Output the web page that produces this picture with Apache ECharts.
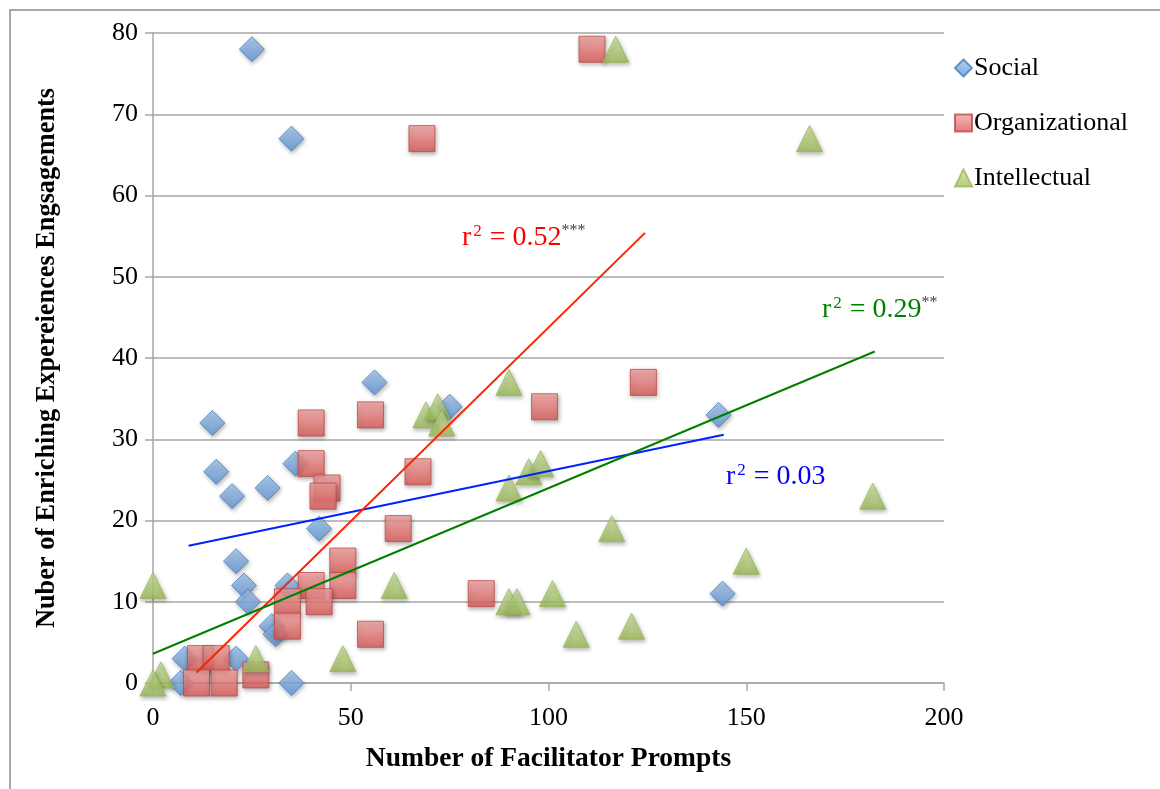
<!DOCTYPE html>
<html><head><meta charset="utf-8">
<script src="https://cdn.jsdelivr.net/npm/echarts@6/dist/echarts.min.js"></script>
<style>html,body{margin:0;padding:0;background:#fff}#c{width:1160px;height:789px}</style>
</head><body><div id="c"></div>
<script>
// Data: [Number of Facilitator Prompts, Number of Enriching Experiences Engagements]
const seriesNames = ['Social', 'Organizational', 'Intellectual'];
const socialData = [[25,78],[35,67],[56,37],[75,34],[15,32],[16,26],[20,23],[29,24],[36,27],[42,19],[21,15],[23,12],[24,10],[34,12],[30,7],[31,6],[143,33],[144,11],[35,0],[7,0],[8,3],[21,3]];
const organizationalData = [[111,78],[68,67],[124,37],[99,34],[55,33],[40,32],[40,27],[44,24],[43,23],[67,26],[62,19],[48,15],[48,12],[40,12],[42,10],[34,10],[34,7],[83,11],[55,6],[12,3],[16,3],[11,0],[18,0],[26,1]];
const intellectualData = [[117,78],[166,67],[182,23],[150,15],[116,19],[90,37],[69,33],[72,34],[73,32],[95,26],[98,27],[90,24],[61,12],[90,10],[92,10],[101,11],[107,6],[121,7],[48,3],[26,3],[0,12],[2,1],[0,0]];
// Trend line end points
const socialTrend = [[9,16.9],[144.3,30.55]];
const organizationalTrend = [[11,1.3],[124.4,55.4]];
const intellectualTrend = [[0,3.6],[182.5,40.8]];
const rSquaredLabels = ['0.52', '0.29', '0.03'];
const rSquaredStars = ['***', '**', ''];
const xTicks = [0, 50, 100, 150, 200];
const yTicks = [0, 10, 20, 30, 40, 50, 60, 70, 80];

const chart = echarts.init(document.getElementById('c'));
const serif = '"Liberation Serif", "Times New Roman", serif';
const G = echarts.graphic.LinearGradient;
const shadow = {shadowBlur: 4, shadowColor: 'rgba(0,0,0,0.35)', shadowOffsetX: 1, shadowOffsetY: 2};

function rText(val, stars, color) {
  return {
    text: '{m|r}{s|2}{m| = ' + val + '}' + (stars ? '{t|' + stars + '}' : ''),
    rich: {
      m: {fontSize: 28, fontFamily: serif, fill: color, lineHeight: 30},
      s: {fontSize: 17, fontFamily: serif, fill: color, verticalAlign: 'top', lineHeight: 30, padding: [0, 1, 0, 2]},
      t: {fontSize: 16, fontFamily: serif, fill: '#444', verticalAlign: 'top', lineHeight: 30}
    },
    verticalAlign: 'middle', align: 'left'
  };
}

chart.setOption({
  animation: false,
  backgroundColor: '#fff',
  grid: {left: 153, right: 216, top: 33, bottom: 106},
  xAxis: {
    type: 'value', min: 0, max: 200, interval: 50,
    name: 'Number of Facilitator Prompts', nameLocation: 'middle', nameGap: 62,
    nameTextStyle: {fontFamily: serif, fontSize: 27.5, fontWeight: 'bold', color: '#000'},
    axisLine: {show: true, lineStyle: {color: '#a6a6a6', width: 1.5}},
    axisTick: {show: true, length: 8, lineStyle: {color: '#a6a6a6', width: 1.5}},
    axisLabel: {fontFamily: serif, fontSize: 26, color: '#000', margin: 22, formatter: v => xTicks.includes(v) ? String(v) : ''},
    splitLine: {show: false}
  },
  yAxis: {
    type: 'value', min: 0, max: 80, interval: 10,
    name: 'Nuber of Enriching Expereiences Engsagements', nameLocation: 'middle', nameGap: 93, nameRotate: 90,
    nameTextStyle: {fontFamily: serif, fontSize: 26.3, fontWeight: 'bold', color: '#000'},
    axisLine: {show: true, lineStyle: {color: '#a6a6a6', width: 1.5}},
    axisTick: {show: true, length: 8, lineStyle: {color: '#a6a6a6', width: 1.5}},
    axisLabel: {fontFamily: serif, fontSize: 26, color: '#000', margin: 15, formatter: v => yTicks.includes(v) ? String(v) : ''},
    splitLine: {show: true, lineStyle: {color: '#a6a6a6', width: 1.5}}
  },
  legend: {
    orient: 'vertical', left: 949, top: 50, itemGap: 29, itemWidth: 17, itemHeight: 17,
    data: [
      {name: 'Social', icon: 'diamond'},
      {name: 'Organizational', icon: 'rect'},
      {name: 'Intellectual', icon: 'triangle'}
    ],
    textStyle: {fontFamily: serif, fontSize: 26, color: '#000', padding: [0, 0, 0, -3]}
  },
  graphic: [
    {type: 'rect', z: -10, shape: {x: 10, y: 10, width: 1300, height: 900}, style: {fill: 'none', stroke: '#8c8c8c', lineWidth: 1.5}},
    {type: 'text', x: 462, y: 238, z: 100, style: rText(rSquaredLabels[0], rSquaredStars[0], '#ff0000')},
    {type: 'text', x: 822, y: 310, z: 100, style: rText(rSquaredLabels[1], rSquaredStars[1], '#008000')},
    {type: 'text', x: 726, y: 477, z: 100, style: rText(rSquaredLabels[2], rSquaredStars[2], '#0000ff')}
  ],
  series: [
    {
      name: seriesNames[0], type: 'scatter', symbol: 'diamond', symbolSize: 25, data: socialData, z: 2,
      itemStyle: Object.assign({color: new G(0,0,0,1,[{offset:0,color:'#a3c6ef'},{offset:1,color:'#5f95d6'}]), borderColor: '#4a7ebb', borderWidth: 1}, shadow)
    },
    {
      name: seriesNames[1], type: 'scatter', symbol: 'rect', symbolSize: 26, data: organizationalData, z: 3,
      itemStyle: Object.assign({color: new G(0,0,0,1,[{offset:0,color:'#f5a5a3'},{offset:1,color:'#dc5956'}]), borderColor: '#be4b48', borderWidth: 1}, shadow)
    },
    {
      name: seriesNames[2], type: 'scatter', symbol: 'triangle', symbolSize: 26, data: intellectualData, z: 4,
      itemStyle: Object.assign({color: new G(0,0,0,1,[{offset:0,color:'#d1e5a1'},{offset:1,color:'#9cbd58'}]), borderColor: '#98b954', borderWidth: 1}, shadow)
    },
    {type: 'line', data: socialTrend, showSymbol: false, symbol: 'none', z: 10, silent: true, lineStyle: {color: '#0022ff', width: 2}},
    {type: 'line', data: organizationalTrend, showSymbol: false, symbol: 'none', z: 10, silent: true, lineStyle: {color: '#ff2200', width: 2}},
    {type: 'line', data: intellectualTrend, showSymbol: false, symbol: 'none', z: 10, silent: true, lineStyle: {color: '#008000', width: 2}}
  ]
});
</script></body></html>
